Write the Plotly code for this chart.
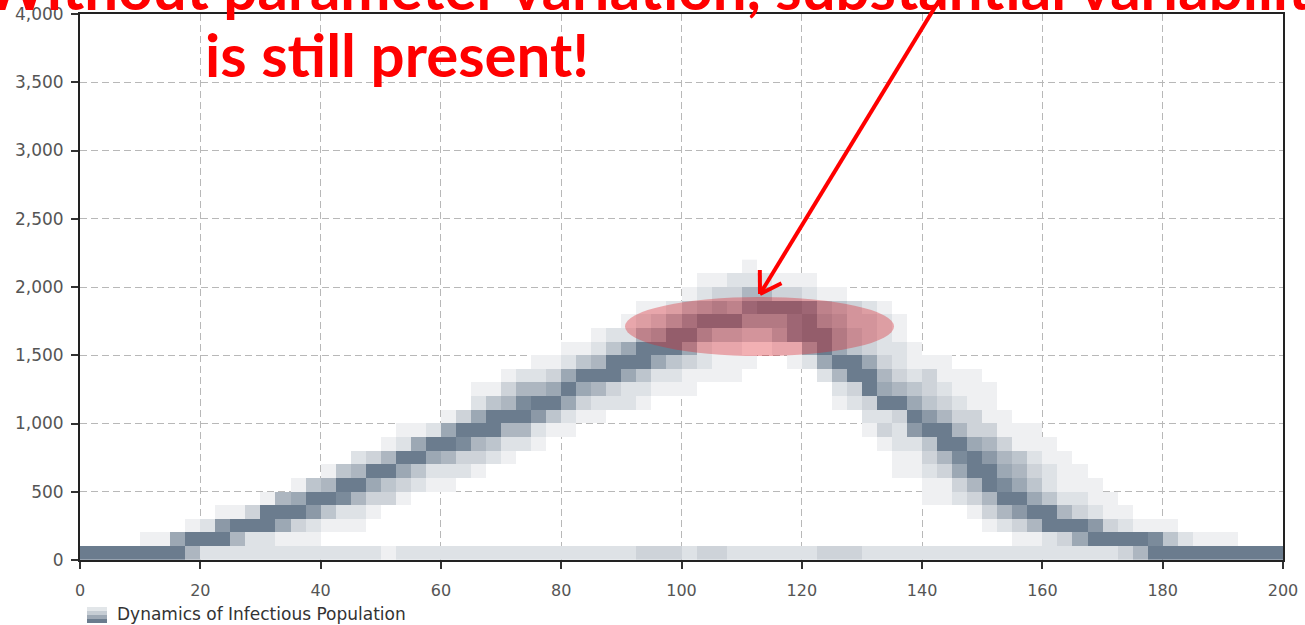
import plotly.graph_objects as go

# ---------------- data ----------------
N_COLS = 80          # time bins (width 2.5)
N_ROWS = 22          # population bins (height 100) that contain any density
X_BIN = 2.5
Y_BIN = 100

X_TICKS = [0, 20, 40, 60, 80, 100, 120, 140, 160, 180, 200]
Y_TICKS = [0, 500, 1000, 1500, 2000, 2500, 3000, 3500, 4000]
Y_TICK_LABELS = ["0", "500", "1,000", "1,500", "2,000", "2,500", "3,000", "3,500", "4,000"]

# density levels (0 = empty .. 9 = darkest) : row index, first column, run of levels
SEG_ROW = [0,
           1, 1,
           2, 2,
           3, 3,
           4, 4,
           5, 5,
           6, 6,
           7, 7,
           8, 8,
           9, 9,
           10, 10,
           11, 11,
           12, 12,
           13, 13,
           14,
           15,
           16,
           17,
           18,
           19,
           20,
           21]
SEG_COL = [0,
           4, 62,
           7, 60,
           9, 59,
           12, 56,
           14, 56,
           16, 54,
           18, 54,
           20, 53,
           21, 52,
           24, 52,
           26, 50,
           26, 50,
           28, 49,
           30,
           32,
           34,
           36,
           37,
           40,
           41,
           44]
SEG_LEVELS = [
    "9999999" "5" "2222222222" "2212222222" "222222222" "333" "2332222223" "3322222222" "222222222" "3" "5" "999999999",
    "116999522111", "112369999842111",
    "127999632111", "1235999732111",
    "11399974221", "13579953211",
    "1569985331", "1123599642211",
    "14599643211", "113598642111",
    "14599642221", "1123699653211",
    "23599653321", "113589754211",
    "12699854221", "122499653111",
    "112699955211", "132799533111",
    "13699974211", "2239753311",
    "245899632221", "12399643211",
    "113556965322111", "23965432111",
    "1223699964221111", "25995323111",
    "1124599964321110012699632111",
    "112469996211001169643221",
    "122569964433589964321",
    "1235799966689653321",
    "11245658999854321",
    "12335533211",
    "11222111",
    "1",
]

SERIES_NAME = "Dynamics of Infectious Population"
TITLE_LINE_1 = "Without parameter variation, substantial variability"
TITLE_LINE_2 = "is still present!"

# ---------------- build the density grid ----------------
z = [[None] * N_COLS for _ in range(N_ROWS)]
for r, c, levels in zip(SEG_ROW, SEG_COL, SEG_LEVELS):
    for i, ch in enumerate(levels):
        v = int(ch)
        z[r][c + i] = v if v > 0 else None

fig = go.Figure()
fig.add_trace(go.Heatmap(
    z=z, x0=X_BIN / 2, dx=X_BIN, y0=Y_BIN / 2, dy=Y_BIN,
    colorscale=[[0, "#ffffff"], [1, "#6b7c8e"]], zmin=0, zmax=9,
    showscale=False, hoverongaps=False, name=SERIES_NAME,
))

# ---------------- layout ----------------
W, H = 1305, 625
L, R, T, B = 80, 22, 14, 65
PW, PH = W - L - R, H - T - B


def px(xp):
    return (xp - L) / PW


def py(yp):
    return (H - B - yp) / PH


axis_common = dict(
    showgrid=True, gridcolor="#b8b8b8", gridwidth=1, griddash="7px,4px",
    showline=True, linecolor="#222222", linewidth=2, mirror=True,
    ticks="outside", tickcolor="#333333", tickwidth=1.5,
    zeroline=False, fixedrange=True, automargin=False,
)
fig.update_layout(
    width=W, height=H,
    margin=dict(l=L, r=R, t=T, b=B, pad=0, autoexpand=False),
    plot_bgcolor="white", paper_bgcolor="white",
    showlegend=False,
    xaxis=dict(range=[0, 200], tickvals=X_TICKS, ticklen=7, ticklabelstandoff=8,
               tickfont=dict(family="DejaVu Sans", size=16, color="#555555"), **axis_common),
    yaxis=dict(range=[0, 4000], tickvals=Y_TICKS, ticktext=Y_TICK_LABELS, ticklen=7,
               ticklabelstandoff=4, tickfont=dict(family="DejaVu Sans", size=17, color="#555555"),
               **axis_common),
)

shapes = []
# highlighted ellipse
shapes.append(dict(type="circle", xref="paper", yref="paper",
                   x0=px(625), x1=px(894), y0=py(356), y1=py(297),
                   fillcolor="rgba(220,40,50,0.37)", line=dict(width=0), layer="above"))
# red arrow (shaft + open head)
red = "#ff0000"
tip = (760, 294)
for end in [(943, -6), (759.8, 270), (781.5, 283.3)]:
    shapes.append(dict(type="line", xref="paper", yref="paper",
                       x0=px(tip[0]), y0=py(tip[1]), x1=px(end[0]), y1=py(end[1]),
                       line=dict(color=red, width=4), layer="above"))
# legend swatch
swatch = ["#e2e6e9", "#c6cdd4", "#9ea9b5", "#6b7c8e"]
for i, col in enumerate(swatch):
    shapes.append(dict(type="rect", xref="paper", yref="paper",
                       x0=px(87), x1=px(107), y0=py(607 + 4 * i + 4), y1=py(607 + 4 * i),
                       fillcolor=col, line=dict(width=0)))
fig.update_layout(shapes=shapes)

title_font = dict(family="Lato", size=60, color=red)
fig.add_annotation(xref="paper", yref="paper", x=px(-18), y=py(25), xanchor="left", yanchor="bottom",
                   text="<b>" + TITLE_LINE_1 + "</b>", showarrow=False, font=title_font)
fig.add_annotation(xref="paper", yref="paper", x=px(203), y=py(92), xanchor="left", yanchor="bottom",
                   text="<b>" + TITLE_LINE_2 + "</b>", showarrow=False, font=title_font)
fig.add_annotation(xref="paper", yref="paper", x=px(115), y=py(614), xanchor="left", yanchor="middle",
                   text=SERIES_NAME, showarrow=False,
                   font=dict(family="DejaVu Sans", size=17, color="#333333"))

fig.write_html("out.html", config={"displayModeBar": False},
               post_script="document.body.style.margin='0';document.body.style.overflow='hidden';")
